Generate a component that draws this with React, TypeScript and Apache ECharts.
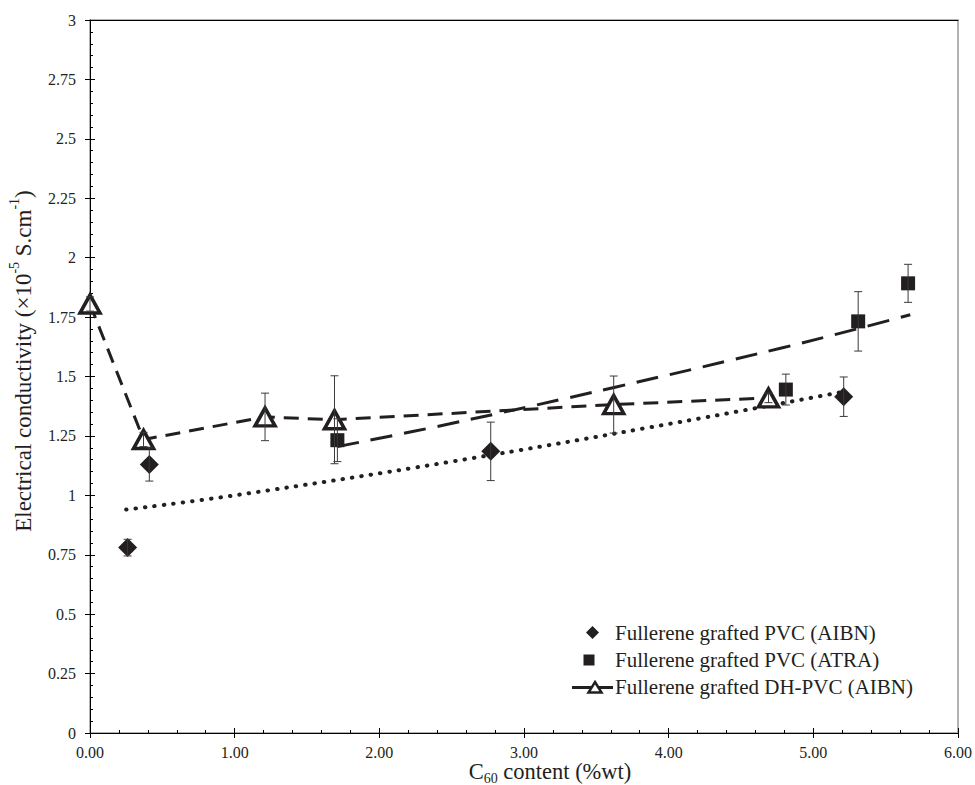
import React, { useEffect, useRef } from "react";
import * as echarts from "echarts";

const FONT = "Liberation Serif";
const INK = "#231f20";

// Fullerene grafted PVC (AIBN)
const aibnX = [0.26, 0.41, 2.77, 5.21];
const aibnY = [0.78, 1.13, 1.185, 1.415];
const aibnErr = [0.035, 0.07, 0.123, 0.083];

// Fullerene grafted PVC (ATRA)
const atraX = [1.71, 4.81, 5.31, 5.655];
const atraY = [1.232, 1.445, 1.732, 1.892];
const atraErr = [0.09, 0.065, 0.125, 0.08];

// Fullerene grafted DH-PVC (AIBN)
const dhX = [0.0, 0.37, 1.21, 1.69, 3.62, 4.69];
const dhY = [1.805, 1.235, 1.33, 1.318, 1.382, 1.41];
const dhErr = [0.03, 0.03, 0.1, 0.185, 0.12, 0.02];

// Trend line (AIBN, dotted)
const aibnTrendX = [0.25, 1.0, 2.48, 4.09, 5.2];
const aibnTrendY = [0.94, 1.0, 1.14, 1.31, 1.435];

// Trend line (ATRA, long dash)
const atraTrendX = [1.71, 2.48, 3.63, 4.78, 5.3, 5.67];
const atraTrendY = [1.205, 1.3, 1.455, 1.62, 1.7, 1.76];

const xTickLabels = ["0.00", "1.00", "2.00", "3.00", "4.00", "5.00", "6.00"];
const yTickLabels = ["0", "0.25", "0.5", "0.75", "1", "1.25", "1.5", "1.75", "2", "2.25", "2.5", "2.75", "3"];

const names = [
  "Fullerene grafted PVC (AIBN)",
  "Fullerene grafted PVC (ATRA)",
  "Fullerene grafted DH-PVC (AIBN)",
];

const zip = (xs: number[], ys: number[]) => xs.map((x, i) => [x, ys[i]]);
const errData = (xs: number[], ys: number[], es: number[]) =>
  xs.map((x, i) => [x, ys[i] - es[i], ys[i] + es[i]]);

const errorSeries = (data: number[][]) => ({
  type: "custom",
  silent: true,
  z: 5,
  data,
  encode: { x: 0, y: [1, 2] },
  renderItem: (_p: any, api: any) => {
    const x = api.value(0);
    const top = api.coord([x, api.value(2)]);
    const bot = api.coord([x, api.value(1)]);
    const w = 4;
    const st = { stroke: "#3a3a3a", lineWidth: 1 };
    return {
      type: "group",
      children: [
        { type: "line", shape: { x1: top[0], y1: top[1], x2: bot[0], y2: bot[1] }, style: st },
        { type: "line", shape: { x1: top[0] - w, y1: top[1], x2: top[0] + w, y2: top[1] }, style: st },
        { type: "line", shape: { x1: bot[0] - w, y1: bot[1], x2: bot[0] + w, y2: bot[1] }, style: st },
      ],
    };
  },
});

export default function App() {
  const ref = useRef<HTMLDivElement>(null);
  useEffect(() => {
    if (!ref.current) return;
    const chart = echarts.init(ref.current, null, { renderer: "svg" });
    const labelStyle = { fontFamily: FONT, fontSize: 16, color: INK };
    const commonX = { type: "value", min: 0, max: 6, interval: 1, splitLine: { show: false } };
    const commonY = { type: "value", min: 0, max: 3, interval: 0.25, splitLine: { show: false } };
    const legendText = (t: string, y: number) => ({
      type: "text", x: 615, y,
      style: { text: t, fontFamily: FONT, fontSize: 21, fill: INK, align: "left", verticalAlign: "middle" },
    });
    chart.setOption({
      animation: false,
      backgroundColor: "#fff",
      textStyle: { fontFamily: FONT },
      grid: {
        left: 90, right: 15, top: 20, bottom: 52,
        show: true, borderColor: "#9a9a9a", borderWidth: 1.5,
      },
      xAxis: [
        {
          ...commonX,
          axisLine: { show: true, lineStyle: { color: "#000", width: 1 } },
          axisTick: { show: true, inside: false, length: 5, lineStyle: { color: "#000" } },
          axisLabel: {
            ...labelStyle, margin: 11,
            formatter: (v: number) => xTickLabels[Math.round(v)] ?? "",
          },
        },
        {
          ...commonX,
          position: "bottom",
          axisLine: { show: false },
          axisTick: { show: true, inside: true, length: 5, lineStyle: { color: "#000" } },
          minorTick: { show: true, splitNumber: 5, length: 3, lineStyle: { color: "#000" } },
          axisLabel: { show: false },
        },
        {
          ...commonX,
          position: "top",
          axisLine: { show: true, lineStyle: { color: "#000", width: 1 } },
          axisTick: { show: false },
          axisLabel: { show: false },
        },
      ],
      yAxis: [
        {
          ...commonY,
          axisLine: { show: true, lineStyle: { color: "#000", width: 1 } },
          axisTick: { show: true, inside: false, length: 5, lineStyle: { color: "#000" } },
          axisLabel: {
            ...labelStyle, margin: 14,
            formatter: (v: number) => yTickLabels[Math.round(v / 0.25)] ?? "",
          },
        },
        {
          ...commonY,
          position: "left",
          axisLine: { show: false },
          axisTick: { show: true, inside: true, length: 5, lineStyle: { color: "#000" } },
          minorTick: { show: true, splitNumber: 5, length: 3, lineStyle: { color: "#000" } },
          axisLabel: { show: false },
        },
      ],
      graphic: [
        {
          type: "text",
          x: 21, y: 361,
          rotation: Math.PI / 2,
          style: {
            text: "{n|Electrical conductivity (×10}{sup|-5}{n| S.cm}{sup|-1}{n|)}",
            align: "center", verticalAlign: "middle",
            rich: {
              n: { fontFamily: FONT, fontSize: 23, fill: INK, lineHeight: 28, verticalAlign: "bottom" },
              sup: { fontFamily: FONT, fontSize: 14, fill: INK, lineHeight: 28, verticalAlign: "top" },
            },
          },
        },
        {
          type: "text",
          x: 550, y: 772.5,
          style: {
            text: "{n|C}{sub|60}{n| content (%wt)}",
            align: "center", verticalAlign: "middle",
            rich: {
              n: { fontFamily: FONT, fontSize: 22.5, fill: INK, lineHeight: 22, verticalAlign: "top" },
              sub: { fontFamily: FONT, fontSize: 14, fill: INK, lineHeight: 25, verticalAlign: "bottom" },
            },
          },
        },
        // legend
        {
          type: "polygon",
          shape: { points: [[592.5, 626], [599, 632.5], [592.5, 639], [586, 632.5]] },
          style: { fill: INK },
        },
        { type: "rect", shape: { x: 583.5, y: 654.5, width: 11, height: 11 }, style: { fill: INK } },
        {
          type: "line", shape: { x1: 572, y1: 687.5, x2: 613, y2: 687.5 },
          style: { stroke: INK, lineWidth: 3 },
        },
        {
          type: "polygon",
          shape: { points: [[595, 682], [601.5, 692.5], [588.5, 692.5]] },
          style: { fill: "#fff", stroke: INK, lineWidth: 2.5 },
        },
        legendText(names[0], 633),
        legendText(names[1], 660),
        legendText(names[2], 687),
      ],
      series: [
        {
          name: "aibnTrend", type: "line", data: zip(aibnTrendX, aibnTrendY),
          smooth: 0.4, symbol: "none", silent: true, z: 2,
          lineStyle: { color: INK, width: 4, type: [0.5, 9], cap: "round" },
        },
        {
          name: "atraTrend", type: "line", data: zip(atraTrendX, atraTrendY),
          smooth: 0.4, symbol: "none", silent: true, z: 2,
          lineStyle: { color: INK, width: 3, type: [22, 12] },
        },
        errorSeries(errData(aibnX, aibnY, aibnErr)),
        errorSeries(errData(atraX, atraY, atraErr)),
        errorSeries(errData(dhX, dhY, dhErr)),
        {
          name: names[2], type: "line", data: zip(dhX, dhY), z: 3,
          symbol: "triangle", symbolSize: [20, 18],
          lineStyle: { color: INK, width: 3, type: [15, 9] },
          itemStyle: { color: "#fff", borderColor: INK, borderWidth: 3.5, opacity: 1 },
        },
        {
          name: names[0], type: "scatter", data: zip(aibnX, aibnY), z: 4,
          symbol: "diamond", symbolSize: 19,
          itemStyle: { color: INK, opacity: 1 },
        },
        {
          name: names[1], type: "scatter", data: zip(atraX, atraY), z: 4,
          symbol: "rect", symbolSize: 14,
          itemStyle: { color: INK, opacity: 1 },
        },
      ],
    });
    return () => chart.dispose();
  }, []);
  return <div ref={ref} style={{ width: 975, height: 785, position: "absolute", left: 0, top: 0 }} />;
}
